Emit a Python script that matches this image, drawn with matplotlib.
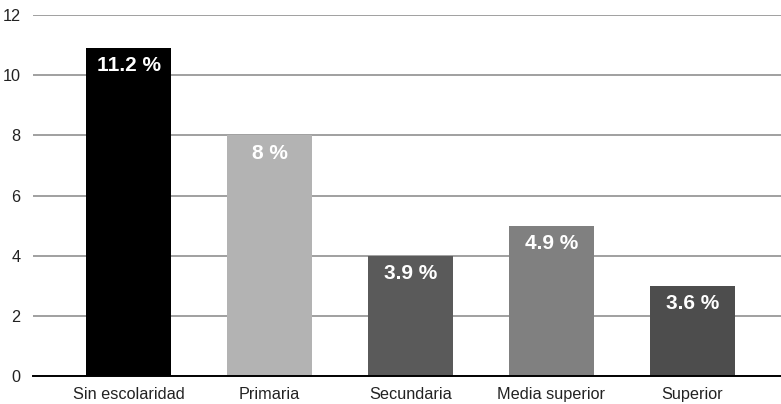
import matplotlib
matplotlib.use("Agg")
import matplotlib.pyplot as plt

categories = ["Sin escolaridad", "Primaria", "Secundaria", "Media superior", "Superior"]
values = [10.9, 8, 4, 5, 3]
labels = ["11.2 %", "8 %", "3.9 %", "4.9 %", "3.6 %"]
colors = ["#000000", "#b3b3b3", "#5a5a5a", "#808080", "#4d4d4d"]
yticks = [0, 2, 4, 6, 8, 10, 12]

plt.rcParams['font.family'] = ['Liberation Sans', 'DejaVu Sans']

fig = plt.figure(figsize=(7.81, 4.04), dpi=100)
ax = fig.add_axes([33/781, 28/404, 1 - 33/781, (376 - 15)/404])

x = list(range(len(categories)))
bars = ax.bar(x, values, width=0.605, color=colors, zorder=3)
for b, lab in zip(bars, labels):
    ax.annotate(lab, (b.get_x() + b.get_width()/2, b.get_height()),
                xytext=(0, -6), textcoords="offset points",
                ha="center", va="top", color="white", fontsize=15,
                fontweight="bold", zorder=4)

ax.set_ylim(0, 12)
ax.set_xlim(-0.68, 4.63)
ax.set_yticks(yticks)
ax.set_xticks(x)
ax.set_xticklabels(categories, fontsize=11.7, color="#222222")
ax.tick_params(axis="y", labelsize=11.7, colors="#222222", length=0, pad=9)
ax.tick_params(axis="x", length=0, pad=8)
ax.yaxis.grid(True, color="#999999", linewidth=1.3, zorder=0)
for s in ["top", "right", "left"]:
    ax.spines[s].set_visible(False)
ax.spines["bottom"].set_color("#000000")
ax.spines["bottom"].set_linewidth(1.4)
ax.spines["bottom"].set_zorder(5)

fig.savefig("out.png", dpi=100)
